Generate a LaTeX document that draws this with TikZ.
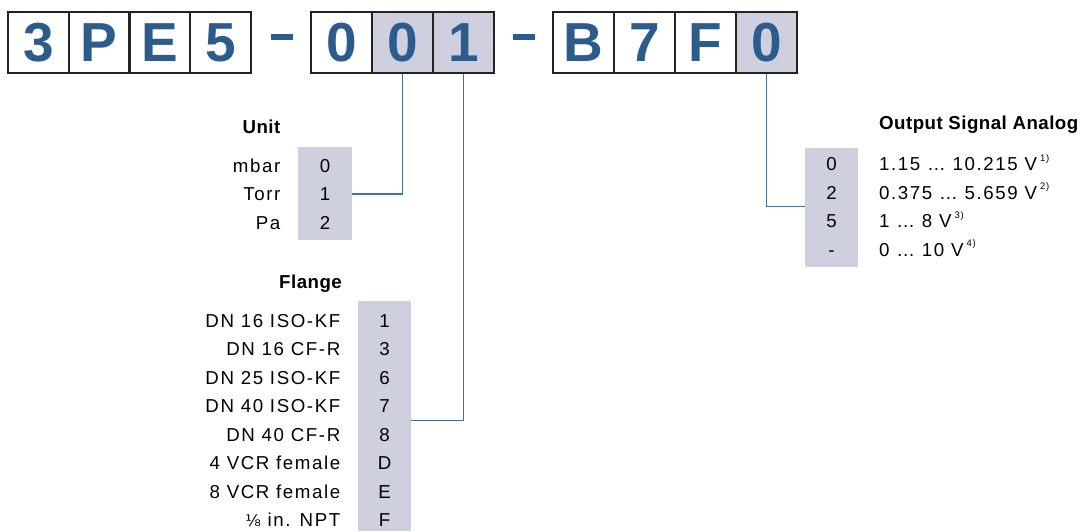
\documentclass[tikz,border=0pt]{standalone}
\usepackage{fontspec}
\setmainfont{Liberation Sans}[LetterSpace=8.5, BoldFeatures={LetterSpace=2.5}]
\newfontfamily\boxfont{Liberation Sans}
\newfontfamily\dejavu{DejaVu Sans}
\usetikzlibrary{calc}
\definecolor{codeblue}{RGB}{45,91,140}
\definecolor{selgray}{RGB}{206,208,223}
\definecolor{linkblue}{RGB}{70,112,162}
\definecolor{boxline}{RGB}{35,35,35}
\tikzset{
  codebox/.style={draw=boxline, line width=2pt, minimum width=60.75pt, minimum height=61pt,
    inner sep=0pt, font=\boxfont\bfseries\fontsize{55}{55}\selectfont, text=codeblue},
  selbox/.style={codebox, fill=selgray},
  codedash/.style={fill=codeblue, minimum width=22pt, minimum height=6.5pt, inner sep=0pt},
  graycol/.style={fill=selgray, inner sep=0pt},
  cell/.style={anchor=base, inner sep=0pt, font=\fontsize{18.7}{18.7}\selectfont},
  lbl/.style={anchor=base east, inner sep=0pt, font=\fontsize{18.7}{18.7}\selectfont},
  rlbl/.style={anchor=base west, inner sep=0pt, font=\fontsize{18.7}{18.7}\selectfont},
  ttl/.style={inner sep=0pt, font=\bfseries\fontsize{18.7}{18.7}\selectfont},
  link/.style={draw=linkblue, line width=1.3pt},
}
\newcommand{\fn}[1]{\,\raisebox{0.5em}{\fontsize{9.5}{9.5}\selectfont #1}}
\begin{document}
\begin{tikzpicture}[x=1pt,y=-1pt]
\useasboundingbox (0,0) rectangle (1085,531);
% code boxes
\node[codebox] (a1) at (38.4,42.5) {3};
\node[codebox] (a2) at (99.1,42.5) {P};
\node[codebox] (a3) at (159.9,42.5) {E};
\node[codebox] (a4) at (220.6,42.5) {5};
\node[codedash] (d1) at (282,37) {};
\node[codebox] (b1) at (341.5,42.5) {0};
\node[selbox] (b2) at (402.5,42.5) {0};
\node[selbox] (b3) at (463.5,42.5) {1};
\node[codedash] (d2) at (523.5,37) {};
\node[codebox] (c1) at (583.5,42.5) {B};
\node[codebox] (c2) at (644.5,42.5) {7};
\node[codebox] (c3) at (705.5,42.5) {F};
\node[selbox] (c4) at (766.5,42.5) {0};
% Unit
\node[ttl, anchor=base east] (unitT) at (280.5,133.5) {Unit};
\node[graycol, minimum width=54pt, minimum height=93pt] (unitbox) at (325,193.5) {};
\node[cell] (u0) at (325,172) {0};
\node[cell] (u1) at (325,200.5) {1};
\node[cell] (u2) at (325,229) {2};
\node[lbl] (ul0) at (280.5,172) {mbar};
\node[lbl] (ul1) at (280.5,200.5) {Torr};
\node[lbl] (ul2) at (280.5,229) {Pa};
% Flange
\node[ttl, anchor=base east] (flT) at (342,288.5) {Flange};
\node[graycol, minimum width=53pt, minimum height=230pt] (flbox) at (384.5,416) {};
\node[cell] (f1) at (384.5,327) {1};
\node[cell] (f3) at (384.5,355.5) {3};
\node[cell] (f6) at (384.5,384) {6};
\node[cell] (f7) at (384.5,412.5) {7};
\node[cell] (f8) at (384.5,441) {8};
\node[cell] (fD) at (384.5,469.5) {D};
\node[cell] (fE) at (384.5,498) {E};
\node[cell] (fF) at (384.5,526.5) {F};
\node[lbl] (fl1) at (340.5,327) {DN 16 ISO-KF};
\node[lbl] (fl3) at (340.5,355.5) {DN 16 CF-R};
\node[lbl] (fl6) at (340.5,384) {DN 25 ISO-KF};
\node[lbl] (fl7) at (340.5,412.5) {DN 40 ISO-KF};
\node[lbl] (fl8) at (340.5,441) {DN 40 CF-R};
\node[lbl] (flD) at (340.5,469.5) {4 VCR female};
\node[lbl] (flE) at (340.5,498) {8 VCR female};
\node[lbl] (flF) at (340.5,526.5) {{\dejavu\fontsize{16}{16}\selectfont ⅛} in. NPT};
% Output
\node[ttl, anchor=base west] (outT) at (879,129.5) {Output Signal Analog};
\node[graycol, minimum width=53pt, minimum height=119pt] (outbox) at (831.5,207.5) {};
\node[cell] (o0) at (831.5,170.5) {0};
\node[cell] (o2) at (831.5,199) {2};
\node[cell] (o5) at (831.5,227.5) {5};
\node[cell] (om) at (831.5,256) {-};
\node[rlbl] (ol0) at (879,170.5) {1.15 … 10.215 V\fn{1)}};
\node[rlbl] (ol2) at (879,199) {0.375 … 5.659 V\fn{2)}};
\node[rlbl] (ol5) at (879,227.5) {1 … 8 V\fn{3)}};
\node[rlbl] (olm) at (879,256) {0 … 10 V\fn{4)}};
% connectors
\draw[link] (b2.south) |- (unitbox.east |- u1.center);
\coordinate (flk) at ($(f7.base)!0.5!(f8.base)+(0,-6.5)$);
\draw[link] (b3.south) |- (flbox.east |- flk);
\coordinate (ok) at ($(o2.base)!0.5!(o5.base)+(0,-6.5)$);
\draw[link] (c4.south) |- (outbox.west |- ok);
\end{tikzpicture}
\end{document}
